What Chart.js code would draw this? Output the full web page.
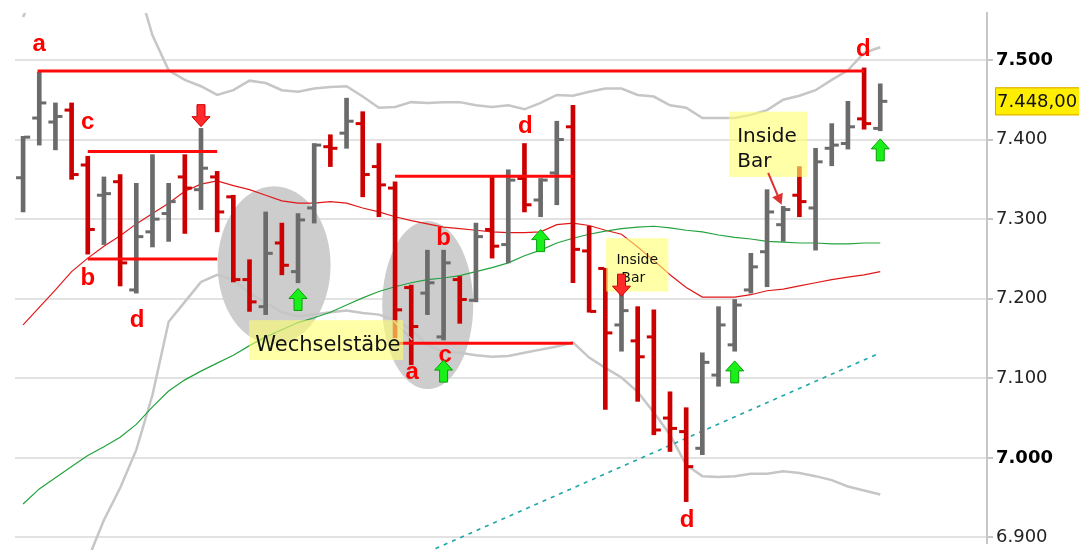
<!DOCTYPE html>
<html lang="de">
<head>
<meta charset="UTF-8">
<title>Chart</title>
<script src="https://cdn.jsdelivr.net/npm/chart.js"></script>
<style>
  html, body { margin: 0; padding: 0; background: #fff; overflow: hidden; }
</style>
</head>
<body>
<canvas id="chart" width="1079" height="550"></canvas>
<script>
// OHLC per bar (bar index 0..53)
const opens  = [7352,7427,7422,7437,7368,7330,7347,7211,7284,7307,7353,7337,7353,7328,7224,7190,7270,7234,7314,7391,7408,7420,7366,7339,7214,7207,7152,7224,7198,7287,7268,7351,7324,7358,7416,7260,7238,7167,7147,7152,7050,7033,7012,7104,7142,7211,7259,7293,7330,7314,7389,7395,7426,7414];
const highs  = [7404,7485,7446,7446,7379,7353,7356,7345,7381,7345,7381,7414,7360,7330,7249,7309,7295,7307,7395,7406,7452,7435,7395,7347,7217,7261,7261,7228,7295,7353,7362,7395,7351,7423,7443,7291,7238,7207,7190,7186,7083,7063,7132,7190,7199,7257,7337,7316,7366,7389,7420,7448,7490,7470];
const lows   = [7309,7393,7387,7350,7256,7268,7216,7207,7265,7272,7282,7312,7284,7221,7184,7180,7230,7220,7295,7366,7389,7328,7303,7151,7117,7180,7148,7169,7196,7251,7245,7309,7303,7318,7220,7183,7061,7134,7071,7029,7008,6945,7004,7090,7134,7207,7215,7272,7303,7261,7367,7388,7413,7411];
const closes = [7403,7446,7429,7356,7287,7332,7245,7278,7300,7322,7339,7364,7309,7224,7196,7257,7242,7299,7393,7389,7423,7356,7343,7186,7165,7220,7245,7199,7278,7266,7349,7318,7349,7400,7262,7184,7157,7185,7127,7035,7037,6989,7120,7167,7192,7240,7309,7312,7322,7372,7393,7416,7420,7448];

// indicators per bar
const upperBand = [7554,7600,7640,7660,7670,7670,7660,7600,7531,7487,7475,7467,7456,7462,7474,7471,7462,7460,7464,7466,7467,7454,7440,7441,7447,7446,7447,7447,7443,7441,7443,7438,7446,7456,7455,7460,7464,7464,7456,7454,7443,7440,7427,7427,7427,7431,7437,7450,7455,7462,7475,7487,7509,7516];
const lowerBand = [6700,6740,6780,6830,6872,6922,6962,7010,7079,7171,7196,7221,7230,7224,7207,7195,7183,7178,7180,7183,7185,7182,7180,7173,7161,7142,7133,7132,7129,7127,7128,7132,7136,7140,7145,7126,7113,7101,7083,7057,7029,6991,6977,6976,6977,6980,6980,6983,6981,6977,6972,6964,6959,6954];
const maRed     = [7167,7189,7211,7234,7251,7266,7279,7294,7307,7320,7335,7344,7348,7342,7337,7330,7323,7320,7320,7322,7320,7314,7309,7303,7298,7294,7290,7288,7286,7284,7283,7283,7284,7293,7295,7292,7286,7281,7265,7248,7230,7214,7202,7202,7202,7205,7210,7212,7216,7220,7224,7227,7230,7234];
const maGreen   = [6942,6961,6975,6989,7003,7014,7026,7042,7064,7084,7098,7109,7119,7129,7141,7152,7161,7170,7176,7183,7192,7201,7209,7215,7220,7224,7226,7229,7234,7239,7245,7254,7261,7270,7276,7281,7285,7288,7290,7291,7289,7286,7284,7280,7277,7275,7272,7271,7270,7270,7269,7269,7270,7270];
const trendX = [25.5, 53];
const trendY = [6886, 7132];

// axis
const yTicks = [6900, 7000, 7100, 7200, 7300, 7400, 7500];
const boldTicks = [7000, 7500];
const lastPrice = 7448;

// horizontal marker lines: [fromBar, toBar, price]
const levelLines = [[0.9, 52, 7486], [4, 12, 7385], [4, 12, 7250], [23, 34, 7354], [23.2, 34, 7144]];
// letter labels: [text, bar, price]
const letters = [['a', 1, 7519], ['c', 4, 7422], ['b', 4, 7226], ['d', 7.05, 7173], ['b', 26, 7276], ['a', 24.06, 7107], ['c', 26.1, 7129], ['d', 31.05, 7416], ['d', 41.06, 6922], ['d', 51.95, 7513]];
const upArrows = [[17, 7199], [26, 7109], [32, 7273], [44, 7108], [53, 7387]];
const downArrows = [[11, 7430], [37, 7217]];

const GRAY = '#6b6b6b';
const RED = '#cc0000';

function fmt(v) {
    return String(v).replace(/\B(?=(\d{3})+(?!\d))/g, '.');
}

const barColors = opens.map((o, i) => closes[i] >= o ? GRAY : RED);

const annotations = {
    id: 'annotations',
    beforeDatasetsDraw(chart) {
        const { ctx, chartArea, scales: { x, y } } = chart;
        ctx.save();
        ctx.beginPath();
        ctx.rect(chartArea.left, chartArea.top, chartArea.width, chartArea.height);
        ctx.clip();
        ctx.fillStyle = '#cdcdcd';
        // ellipses: [bar, price, halfWidthPx, halfHeightPx]
        [[15.52, 7242, 56.5, 79], [25.02, 7192, 45.5, 84]].forEach(([b, p, rx, ry]) => {
            ctx.beginPath();
            ctx.ellipse(x.getPixelForValue(b), y.getPixelForValue(p), rx, ry, 0, 0, Math.PI * 2);
            ctx.fill();
        });
        ctx.restore();
    },
    afterDatasetsDraw(chart) {
        const { ctx, scales: { x, y } } = chart;
        const px = v => x.getPixelForValue(v);
        const py = v => y.getPixelForValue(v);
        ctx.save();

        // leader line to "a"
        ctx.strokeStyle = '#bdbdbd';
        ctx.lineWidth = 1.5;
        ctx.beginPath();
        ctx.moveTo(px(22.88), py(7173));
        ctx.lineTo(px(24.06), py(7148));
        ctx.stroke();

        // yellow note boxes
        function box(b1, b2, p1, p2) {
            const x1 = px(b1), x2 = px(b2), y1 = py(p1), y2 = py(p2);
            ctx.fillStyle = 'rgba(255,255,110,0.6)';
            ctx.fillRect(x1, y1, x2 - x1, y2 - y1);
            return { x1, x2, y1, y2 };
        }
        let b = box(13.98, 23.5, 7173, 7123);
        ctx.fillStyle = '#111';
        ctx.font = '21px "DejaVu Sans"';
        ctx.textBaseline = 'middle';
        ctx.textAlign = 'left';
        ctx.fillText('Wechselstäbe', b.x1 + 6, (b.y1 + b.y2) / 2 + 5);

        b = box(43.66, 48.48, 7435, 7353);
        ctx.fillStyle = '#111';
        ctx.font = '20px "DejaVu Sans"';
        ctx.fillText('Inside', b.x1 + 8, b.y1 + 25);
        ctx.fillText('Bar', b.x1 + 8, b.y1 + 50);

        b = box(36.05, 39.9, 7276, 7209);
        ctx.fillStyle = '#111';
        ctx.font = '14px "DejaVu Sans"';
        ctx.textAlign = 'center';
        ctx.fillText('Inside', (b.x1 + b.x2) / 2, b.y1 + 22);
        ctx.fillText('Bar', (b.x1 + b.x2) / 2 - 4, b.y1 + 40);

        // pointer arrow for inside bar
        const ax1 = px(46.07), ay1 = py(7358), ax2 = px(46.9), ay2 = py(7318);
        const ang = Math.atan2(ay2 - ay1, ax2 - ax1);
        ctx.strokeStyle = '#e03030';
        ctx.fillStyle = '#e03030';
        ctx.lineWidth = 2;
        ctx.beginPath();
        ctx.moveTo(ax1, ay1);
        ctx.lineTo(ax2 - Math.cos(ang) * 8, ay2 - Math.sin(ang) * 8);
        ctx.stroke();
        ctx.beginPath();
        ctx.moveTo(ax2, ay2);
        ctx.lineTo(ax2 - Math.cos(ang - 0.5) * 12, ay2 - Math.sin(ang - 0.5) * 12);
        ctx.lineTo(ax2 - Math.cos(ang + 0.5) * 12, ay2 - Math.sin(ang + 0.5) * 12);
        ctx.closePath();
        ctx.fill();

        // letters
        ctx.fillStyle = '#ff0000';
        ctx.font = 'bold 24px "Liberation Sans"';
        ctx.textAlign = 'center';
        ctx.textBaseline = 'middle';
        letters.forEach(([t, bi, p]) => ctx.fillText(t, px(bi), py(p)));

        // signal arrows
        function arrow(cx, cy, dir, fill, stroke) {
            ctx.save();
            ctx.translate(cx, cy);
            if (dir < 0) ctx.scale(1, -1);
            ctx.beginPath();
            ctx.moveTo(0, -11);
            ctx.lineTo(9, -1);
            ctx.lineTo(4, -1);
            ctx.lineTo(4, 11);
            ctx.lineTo(-4, 11);
            ctx.lineTo(-4, -1);
            ctx.lineTo(-9, -1);
            ctx.closePath();
            ctx.fillStyle = fill;
            ctx.fill();
            ctx.strokeStyle = stroke;
            ctx.lineWidth = 1;
            ctx.stroke();
            ctx.restore();
        }
        upArrows.forEach(([bi, p]) => arrow(px(bi), py(p), 1, '#19f019', '#0aa00a'));
        downArrows.forEach(([bi, p]) => arrow(px(bi), py(p), -1, '#ff2a2a', '#d00000'));

        // last price tag
        const ly = py(lastPrice);
        ctx.fillStyle = '#ffee00';
        ctx.fillRect(995, ly - 14, 90, 28);
        ctx.strokeStyle = '#d8a800';
        ctx.lineWidth = 1;
        ctx.strokeRect(995.5, ly - 13.5, 90, 27);
        ctx.fillStyle = '#111';
        ctx.font = '18px "DejaVu Sans"';
        ctx.textAlign = 'left';
        ctx.fillText(fmt(lastPrice) + ',00', 997, ly + 1);
        ctx.restore();
    }
};

// let the bottom-most lines run a few px past the chart area, like the original
const bottomClip = { left: 0, top: 0, right: 0, bottom: 8 };

const lineSet = (values, color, width, order) => ({
    type: 'line',
    data: values.map((v, i) => ({ x: i, y: v })),
    borderColor: color,
    borderWidth: width,
    pointRadius: 0,
    tension: 0,
    fill: false,
    clip: bottomClip,
    order: order
});

const datasets = [
    lineSet(upperBand, '#c6c6c6', 2.5, 20),
    lineSet(lowerBand, '#c6c6c6', 2.5, 20),
    lineSet(maGreen, '#22a33e', 1.2, 18),
    lineSet(maRed, '#e01818', 1.2, 18),
    {
        type: 'line',
        data: trendX.map((v, i) => ({ x: v, y: trendY[i] })),
        borderColor: '#1fa6a6',
        borderWidth: 1.6,
        borderDash: [4, 5],
        pointRadius: 0,
        clip: bottomClip,
        order: 17
    },
    {
        type: 'bar',
        data: highs.map((h, i) => ({ x: i, y: [lows[i], h] })),
        backgroundColor: barColors,
        barThickness: 4,
        grouped: false,
        order: 10
    },
    {
        type: 'line',
        data: opens.map((o, i) => ({ x: i - 0.25, y: o })),
        showLine: false,
        pointStyle: 'line',
        pointRadius: 3,
        pointBorderWidth: 3,
        pointBorderColor: barColors,
        order: 9
    },
    {
        type: 'line',
        data: closes.map((c, i) => ({ x: i + 0.25, y: c })),
        showLine: false,
        pointStyle: 'line',
        pointRadius: 3,
        pointBorderWidth: 3,
        pointBorderColor: barColors,
        order: 9
    }
];

levelLines.forEach(([a, b, p]) => {
    datasets.push({
        type: 'line',
        data: [{ x: a, y: p }, { x: b, y: p }],
        borderColor: '#ff0a0a',
        borderWidth: 3,
        pointRadius: 0,
        order: 5
    });
});

Chart.defaults.font.family = '"DejaVu Sans", sans-serif';

new Chart(document.getElementById('chart'), {
    data: { datasets: datasets },
    options: {
        responsive: false,
        animation: false,
        events: [],
        layout: { padding: { left: 15, top: 13, right: 0, bottom: 0 } },
        plugins: {
            legend: { display: false },
            tooltip: { enabled: false }
        },
        scales: {
            x: {
                type: 'linear',
                min: -0.5,
                max: 59.6,
                offset: false,
                display: false
            },
            y: {
                type: 'linear',
                position: 'right',
                min: 6893,
                max: 7559,
                afterBuildTicks: s => { s.ticks = yTicks.map(v => ({ value: v })); },
                afterFit: s => {
                    s.width = 92;
                    s.paddingTop = 0;
                    s.paddingBottom = 0;
                },
                border: { display: true, color: '#c6c6c6', width: 2 },
                grid: { color: '#e2e2e2', lineWidth: 2, tickLength: 6, tickColor: '#c6c6c6' },
                ticks: {
                    padding: 3,
                    color: ctx => boldTicks.includes(ctx.tick.value) ? '#000' : '#222',
                    font: ctx => ({
                        family: '"DejaVu Sans"',
                        size: 18,
                        weight: boldTicks.includes(ctx.tick && ctx.tick.value) ? 'bold' : 'normal'
                    }),
                    callback: v => fmt(v)
                }
            }
        }
    },
    plugins: [annotations]
});
</script>
</body>
</html>
